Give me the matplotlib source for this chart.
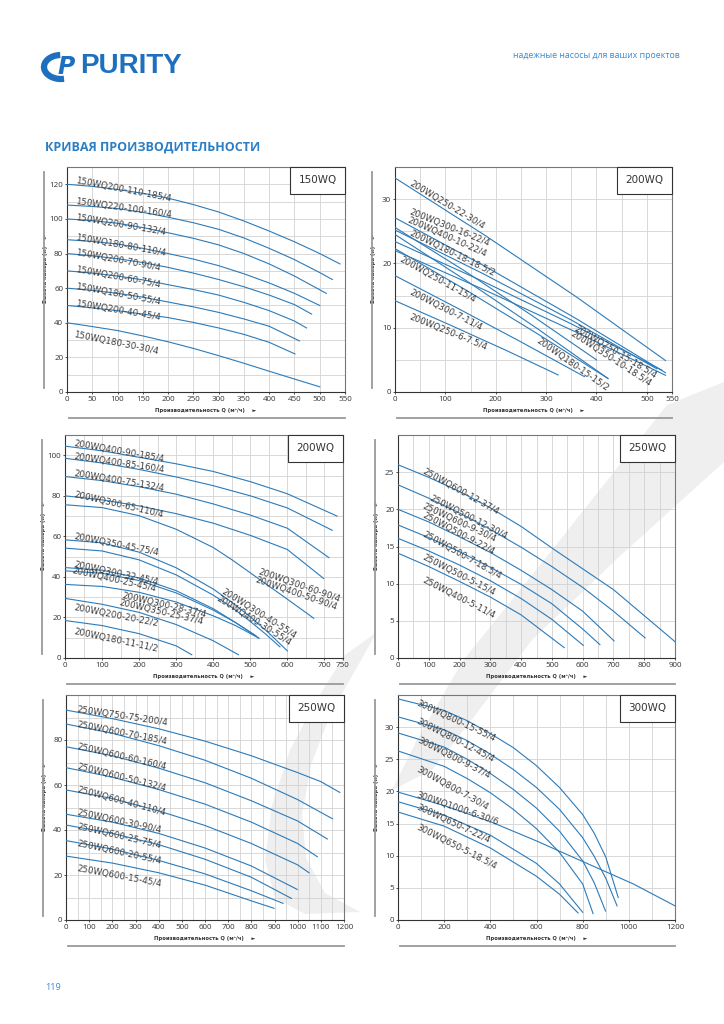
"""PURITY WQ 系列性能曲線頁面(150WQ / 200WQ / 250WQ / 300WQ)。"""

import matplotlib
matplotlib.use("Agg")
import matplotlib.pyplot as plt
from matplotlib.patches import Rectangle, Arc, Polygon
from matplotlib.ticker import MultipleLocator

W, H = 724, 1024
BLUE = "#2b7bba"
HEAD_BLUE = "#1f6fbf"

# ---------------- 150WQ ----------------
wq150_q = [
    [0, 50, 100, 150, 200, 250, 300, 350, 400, 450, 500, 540],
    [0, 50, 100, 150, 200, 250, 300, 350, 400, 450, 500, 525],
    [0, 50, 100, 150, 200, 250, 300, 350, 400, 450, 513],
    [0, 50, 100, 150, 200, 250, 300, 350, 400, 450, 500],
    [0, 50, 100, 150, 200, 250, 300, 350, 400, 450, 484],
    [0, 50, 100, 150, 200, 250, 300, 350, 400, 450, 474],
    [0, 50, 100, 150, 200, 250, 300, 350, 400, 460],
    [0, 50, 100, 150, 200, 250, 300, 350, 400, 451],
    [0, 50, 100, 150, 200, 250, 300, 350, 400, 450, 500],
]
wq150_h = [
    [120, 118.8, 117, 114.8, 112, 108.3, 104, 98.8, 93, 86.8, 80, 74],
    [108, 107.2, 106, 103.8, 101, 97.8, 94, 89, 83, 76.5, 69, 65],
    [100, 99, 97.5, 95, 92, 88.8, 85, 80, 74, 67, 57],
    [88, 87, 85.5, 83, 80, 76.8, 73, 68.3, 63, 57, 50],
    [80, 78.7, 77, 74.8, 72, 68.7, 65, 60.8, 56, 50.5, 45],
    [70, 68.7, 67, 64.8, 62, 59.2, 56, 51.8, 47, 41, 37],
    [60, 58.7, 57, 54.8, 52, 49.2, 46, 42.2, 38, 29.5],
    [50, 48.6, 47, 45, 43, 40.2, 37, 33.3, 28.7, 22],
    [40, 37.8, 35.5, 32.4, 29, 25.2, 21, 16.6, 12, 7.5, 3],
]
wq150_labels = ["150WQ200-110-185/4", "150WQ220-100-160/4", "150WQ200-90-132/4",
                "150WQ180-80-110/4", "150WQ200-70-90/4", "150WQ200-60-75/4",
                "150WQ180-50-55/4", "150WQ200-40-45/4", "150WQ180-30-30/4"]

# ---------------- 200WQ (1) ----------------
wq200a_q = [
    [0, 180, 360, 537],
    [0, 180, 360, 537],
    [0, 135, 270, 400],
    [0, 140, 280, 423],
    [0, 175, 350, 530],
    [0, 180, 360, 537],
    [0, 175, 350, 520],
    [0, 140, 280, 423],
    [0, 125, 250, 376],
    [0, 110, 220, 324],
]
wq200a_h = [
    [33.3, 24.3, 14.8, 4.9],
    [27.1, 19.5, 11.4, 3.0],
    [25.6, 19.0, 12.0, 5.0],
    [24.5, 17.4, 10.0, 2.1],
    [23.4, 17.2, 10.6, 3.4],
    [22.0, 15.8, 9.3, 2.6],
    [25.2, 18.4, 11.2, 3.6],
    [22.3, 15.9, 9.2, 2.1],
    [18.1, 13.0, 7.8, 2.4],
    [14.2, 10.4, 6.5, 2.65],
]
wq200a_labels = ["200WQ250-22-30/4", "200WQ300-16-22/4", "200WQ400-10-22/4",
                 "200WQ180-18-18.5/2", "200WQ250-11-15/4", "200WQ300-7-11/4",
                 "200WQ250-6-7.5/4", "200WQ250-15-18.5/4", "200WQ350-10-18.5/4",
                 "200WQ180-15-15/2"]

# ---------------- 200WQ (2) ----------------
wq200b_q = [
    [0, 100, 200, 300, 400, 500, 600, 734],
    [0, 100, 200, 300, 400, 500, 600, 721],
    [0, 100, 200, 300, 400, 500, 600, 712],
    [0, 100, 200, 300, 400, 500, 600, 698],
    [0, 100, 200, 300, 400, 450, 500, 550, 600, 671],
    [0, 100, 200, 300, 400, 450, 500, 550, 600],
    [0, 100, 200, 300, 400, 450, 500, 540, 580],
    [0, 100, 200, 300, 400, 460, 523],
    [0, 100, 200, 300, 400, 460, 515],
    [0, 100, 200, 300, 400, 460, 523],
    [0, 100, 200, 300, 400, 468],
    [0, 100, 200, 300, 342],
]
wq200b_h = [
    [104.5, 102.2, 99, 95.8, 92, 87, 81, 70],
    [98.5, 96.2, 93, 89.3, 85, 80, 74, 63],
    [89.5, 87.5, 84.5, 80.8, 76, 70.5, 64, 49.5],
    [80, 78, 75, 71.2, 66.5, 60.5, 53.5, 39.2],
    [75.6, 74.2, 70.2, 63.5, 54.5, 48.5, 42, 35.5, 29, 19.6],
    [58.3, 56.8, 52.2, 44.5, 34, 27.5, 20.3, 12.3, 3.5],
    [54.2, 52.8, 48.4, 41, 31, 25, 18, 12, 5.5],
    [44.6, 43.3, 39.5, 33.2, 24.3, 17.5, 9.8],
    [43, 41.8, 38.2, 32.1, 23.6, 17.5, 11],
    [36.3, 35.3, 32.4, 27.6, 20.8, 16, 9.8],
    [29.4, 26.5, 22.5, 16.5, 8.5, 1.6],
    [18.5, 16, 12, 6, 1.6],
]
wq200b_labels = ["200WQ400-90-185/4", "200WQ400-85-160/4", "200WQ400-75-132/4",
                 "200WQ300-65-110/4", "200WQ350-45-75/4", "200WQ300-32-45/4",
                 "200WQ400-25-45/4", "200WQ300-28-37/4", "200WQ350-25-37/4",
                 "200WQ200-20-22/2", "200WQ180-11-11/2", "200WQ300-60-90/4",
                 "200WQ400-50-90/4", "200WQ300-40-55/4", "200WQ400-30-55/4"]

# ---------------- 250WQ (1) ----------------
wq250a_q = [
    [0, 100, 200, 300, 400, 500, 600, 700, 800, 900],
    [0, 100, 200, 300, 400, 500, 600, 700, 803],
    [0, 100, 200, 300, 400, 500, 600, 702],
    [0, 100, 200, 300, 400, 500, 600, 656],
    [0, 100, 200, 300, 400, 500, 602],
    [0, 100, 200, 300, 400, 540],
]
wq250a_h = [
    [26, 24.3, 22.4, 20.2, 17.7, 14.8, 12, 9.2, 5.7, 2.2],
    [23.3, 21.5, 19.5, 17.3, 14.9, 12.3, 9.5, 6.3, 2.7],
    [20, 18.3, 16.3, 14.2, 11.8, 9.2, 6.3, 2.3],
    [17.9, 16.2, 14.3, 12.2, 9.9, 7.3, 3.9, 1.8],
    [16.1, 14.4, 12.5, 10.4, 8.0, 5.2, 1.7],
    [14.1, 12.3, 10.3, 8.2, 5.8, 1.4],
]
wq250a_labels = ["250WQ600-12-37/4", "250WQ500-12-30/4", "250WQ600-9-30/4",
                 "250WQ500-9-22/4", "250WQ500-7-18.5/4", "250WQ500-5-15/4",
                 "250WQ400-5-11/4"]

# ---------------- 250WQ (2) ----------------
wq250b_q = [
    [0, 200, 400, 600, 800, 1000, 1100, 1182],
    [0, 200, 400, 600, 800, 1000, 1150],
    [0, 200, 400, 600, 800, 1000, 1128],
    [0, 200, 400, 600, 800, 1000, 1085],
    [0, 200, 400, 600, 800, 1000, 1049],
    [0, 200, 400, 600, 800, 998],
    [0, 200, 400, 600, 800, 973],
    [0, 200, 400, 600, 800, 937],
    [0, 200, 400, 600, 800, 898],
]
wq250b_h = [
    [93.3, 89.5, 85, 79.5, 73, 65.5, 61.5, 56.7],
    [87.1, 83, 77.5, 71, 63, 53.5, 45],
    [77, 73, 67.5, 61, 53, 44, 36],
    [67.7, 63.5, 58, 51.5, 43.5, 34, 28.1],
    [57.8, 54, 48.5, 42, 34, 24.5, 21],
    [47, 43.5, 38.5, 32, 24, 13.6],
    [42.2, 38.5, 33.5, 27, 19, 9.6],
    [35.3, 31.5, 26.5, 20.5, 13, 7.4],
    [28.4, 25.3, 21, 15.5, 8.5, 5.2],
]
wq250b_labels = ["250WQ750-75-200/4", "250WQ600-70-185/4", "250WQ600-60-160/4",
                 "250WQ600-50-132/4", "250WQ600-40-110/4", "250WQ600-30-90/4",
                 "250WQ600-25-75/4", "250WQ600-20-55/4", "250WQ600-15-45/4"]

# ---------------- 300WQ ----------------
wq300_q = [
    [0, 200, 300, 400, 500, 600, 700, 800, 850, 900, 954],
    [0, 200, 300, 400, 500, 600, 700, 800, 850, 900, 949],
    [0, 200, 300, 400, 500, 600, 700, 800, 850, 899],
    [0, 200, 300, 400, 500, 600, 700, 800, 845],
    [0, 200, 400, 600, 800, 1020, 1200],
    [0, 200, 400, 600, 700, 800],
    [0, 200, 400, 600, 700, 780],
]
wq300_h = [
    [34.4, 32.6, 31.0, 29.0, 26.8, 24.0, 20.6, 16.4, 13.5, 9.8, 3.5],
    [31.6, 29.6, 27.9, 25.8, 23.4, 20.6, 17.2, 12.8, 9.9, 6.5, 2.2],
    [29.1, 26.9, 25.0, 22.8, 20.3, 17.4, 13.8, 9.2, 5.8, 1.4],
    [26.3, 23.9, 22.0, 19.8, 17.2, 14.2, 10.5, 5.6, 1.0],
    [19.9, 17.8, 15.3, 12.3, 9.1, 5.6, 2.2],
    [18.4, 16.3, 13.2, 8.8, 5.6, 1.2],
    [16.8, 14.6, 11.2, 6.8, 4.0, 1.1],
]
wq300_labels = ["300WQ800-15-55/4", "300WQ800-12-45/4", "300WQ800-9-37/4",
                "300WQ800-7-30/4", "300WQ1000-6-30/6", "300WQ650-7-22/4",
                "300WQ650-5-18.5/4"]

# 標籤擺放位置 (Q, H, 傾角),對照原圖量出來的
wq150_label_pos = [(16, 120.5, 11), (16, 108.4, 8), (16, 99.3, 9.5), (16, 88.1, 10),
                   (16, 79.1, 10.5), (16, 69.4, 10.5), (16, 59.4, 10.5),
                   (16, 49.6, 9.5), (13, 31.8, 11.5)]
wq200a_label_pos = [(28, 32.2, 31), (28, 27.6, 22), (24, 26.5, 24), (28, 24.4, 26),
                    (8, 20.3, 29), (28, 15.3, 27), (28, 11.4, 22),
                    (355, 9.6, 31), (348, 8.8, 33), (279, 7.8, 35)]
wq200b_label_pos = [(22, 104.6, 10), (22, 98, 8.5), (22, 89.9, 9.5), (22, 79.2, 13),
                    (22, 58.5, 11), (22, 44.9, 12), (18, 41.7, 12.5),
                    (153, 29.4, 13), (144, 26.1, 13), (22, 23.7, 11), (22, 11.8, 12),
                    (520, 41.2, 19), (511, 37.6, 19), (421, 31.9, 32), (407, 28.6, 32)]
wq250a_label_pos = [(78, 24.9, 29), (100, 21.3, 27), (78, 20.2, 25), (78, 18.9, 28),
                    (78, 16.4, 29), (78, 13.3, 27), (78, 10.2, 27)]
wq250b_label_pos = [(46, 92.3, 8.5), (46, 85.9, 11), (46, 76, 13), (46, 67.1, 14),
                    (46, 57, 15), (46, 46.8, 12), (46, 40.4, 13), (46, 33, 12),
                    (46, 21.9, 10.5)]
wq300_label_pos = [(75, 33.5, 25), (75, 30.7, 27), (82, 27.6, 27), (75, 23.2, 29),
                   (75, 19.1, 19), (75, 17.2, 25), (75, 14.1, 27)]

# 浮水印輪廓(頁面像素)
mark_crescent = [(377, 632), (345, 655), (317, 699), (290, 750), (272, 805),
                 (265, 860), (275, 898), (305, 914), (360, 912), (325, 893),
                 (306, 858), (302, 815), (311, 765), (330, 715), (352, 676)]
mark_band = [(392, 790), (418, 738), (462, 662), (560, 540), (667, 405),
             (724, 382), (724, 462), (620, 556), (532, 640), (470, 722), (432, 770)]


def fx(px):
    return px / W


def fy(py):
    return 1 - py / H


def draw_panel(fig, rect, qs, hs, labels, label_pos, title,
               xlim, ylim, xticks, yticks, xgrid, ygrid):
    """rect = (left, top, right, bottom) 以像素計。"""
    left, top, right, bottom = rect
    aw, ah = right - left, bottom - top
    ax = fig.add_axes([fx(left), fy(bottom), aw / W, ah / H])
    ax.set_facecolor("none")

    for q, h in zip(qs, hs):
        ax.plot(q, h, color=BLUE, lw=0.8, zorder=3)

    for txt, (q, h, rot) in zip(labels, label_pos):
        ax.text(q, h, txt, rotation=-rot, rotation_mode="anchor",
                ha="left", va="baseline", fontsize=6.3, color="#3c3c3c",
                family="DejaVu Sans", zorder=4)

    ax.set_xlim(xlim)
    ax.set_ylim(ylim)
    ax.set_xticks(xticks)
    ax.set_yticks(yticks)
    ax.xaxis.set_minor_locator(MultipleLocator(xgrid))
    ax.yaxis.set_minor_locator(MultipleLocator(ygrid))
    ax.grid(which="both", color="#d2d2d2", lw=0.6)
    ax.set_axisbelow(True)
    ax.tick_params(which="minor", length=0)
    ax.tick_params(which="major", length=1.5, width=0.6, pad=1.2,
                   labelsize=5.8, colors="#333333")
    for lab in ax.get_xticklabels() + ax.get_yticklabels():
        lab.set_family("Open Sans")
    for side, sp in ax.spines.items():
        sp.set_linewidth(0.8)
        sp.set_color("#333333" if side in ("left", "bottom") else "#777777")

    ax.set_xlabel("Производительность Q (м³/ч)    ►", fontsize=3.8,
                  fontweight="bold", color="#333333")
    ax.set_ylabel("Высота напора (м)    ►", fontsize=3.8,
                  fontweight="bold", color="#333333")
    ax.xaxis.set_label_coords(0.5, -16 / ah)
    ax.yaxis.set_label_coords(-19 / aw, 0.55)

    # 型號框
    bw, bh = 55 / aw, 27 / ah
    ax.add_patch(Rectangle((1 - bw, 1 - bh), bw, bh, transform=ax.transAxes,
                           fc="white", ec="#333333", lw=0.8, zorder=5, clip_on=False))
    ax.text(1 - bw / 2, 1 - bh / 2, title, transform=ax.transAxes, ha="center",
            va="center", fontsize=7.5, color="#333333", zorder=6)

    # 外框裝飾線
    ax.plot([-23 / aw, -23 / aw], [1 - 5 / ah, 4 / ah], transform=ax.transAxes,
            clip_on=False, color="#9a9a9a", lw=1.3)
    ax.plot([2 / aw, 1.0], [-26 / ah, -26 / ah], transform=ax.transAxes,
            clip_on=False, color="#9a9a9a", lw=1.3)
    return ax


fig = plt.figure(figsize=(W / 100, H / 100), dpi=100)

# 浮水印(放在所有座標軸底下)
for shape in (mark_crescent, mark_band):
    fig.add_artist(Polygon([(fx(x), fy(y)) for x, y in shape], closed=True,
                           fc="#efefef", ec="none", zorder=-1,
                           transform=fig.transFigure))

# 頁首
fig.add_artist(Arc((fx(61), fy(67)), 34 / W, 24 / H, theta1=95, theta2=290,
                   lw=4.5, color=HEAD_BLUE, transform=fig.transFigure))
fig.text(fx(58), fy(67), "P", fontsize=17, fontweight="bold", style="italic",
         color=HEAD_BLUE, ha="left", va="center", family="DejaVu Sans")
fig.text(fx(80), fy(66), "PURITY", fontsize=20, fontweight="bold",
         color=HEAD_BLUE, ha="left", va="center", family="Liberation Sans")
fig.text(fx(680), fy(55), "надежные насосы для ваших проектов", fontsize=6.3,
         color="#3a8ad0", ha="right", va="center", family="Open Sans")
fig.text(fx(45), fy(147), "КРИВАЯ ПРОИЗВОДИТЕЛЬНОСТИ", fontsize=9,
         fontweight="bold", color="#2a7fc7", ha="left", va="center",
         family="Open Sans")
fig.text(fx(45), fy(988), "119", fontsize=6.5, color="#3a8ad0", ha="left",
         va="center", family="Open Sans")

draw_panel(fig, (67, 167, 345, 392), wq150_q, wq150_h, wq150_labels,
           wq150_label_pos, "150WQ", (0, 550), (0, 130),
           range(0, 551, 50), range(0, 121, 20), 50, 10)
draw_panel(fig, (395, 167, 672, 392), wq200a_q, wq200a_h, wq200a_labels,
           wq200a_label_pos, "200WQ", (0, 550), (0, 35),
           [0, 100, 200, 300, 400, 500, 550], range(0, 31, 10), 50, 5)
draw_panel(fig, (65, 435, 343, 658), wq200b_q, wq200b_h, wq200b_labels,
           wq200b_label_pos, "200WQ", (0, 750), (0, 110),
           [0, 100, 200, 300, 400, 500, 600, 700, 750], range(0, 101, 20), 50, 10)
draw_panel(fig, (398, 435, 675, 658), wq250a_q, wq250a_h, wq250a_labels,
           wq250a_label_pos, "250WQ", (0, 900), (0, 30),
           range(0, 901, 100), range(0, 26, 5), 50, 5)
draw_panel(fig, (66, 695, 344, 920), wq250b_q, wq250b_h, wq250b_labels,
           wq250b_label_pos, "250WQ", (0, 1200), (0, 100),
           range(0, 1201, 100), range(0, 81, 20), 50, 10)
draw_panel(fig, (398, 695, 675, 920), wq300_q, wq300_h, wq300_labels,
           wq300_label_pos, "300WQ", (0, 1200), (0, 35),
           range(0, 1201, 200), range(0, 31, 5), 100, 5)

fig.savefig("out.png", dpi=100)
plt.close(fig)
